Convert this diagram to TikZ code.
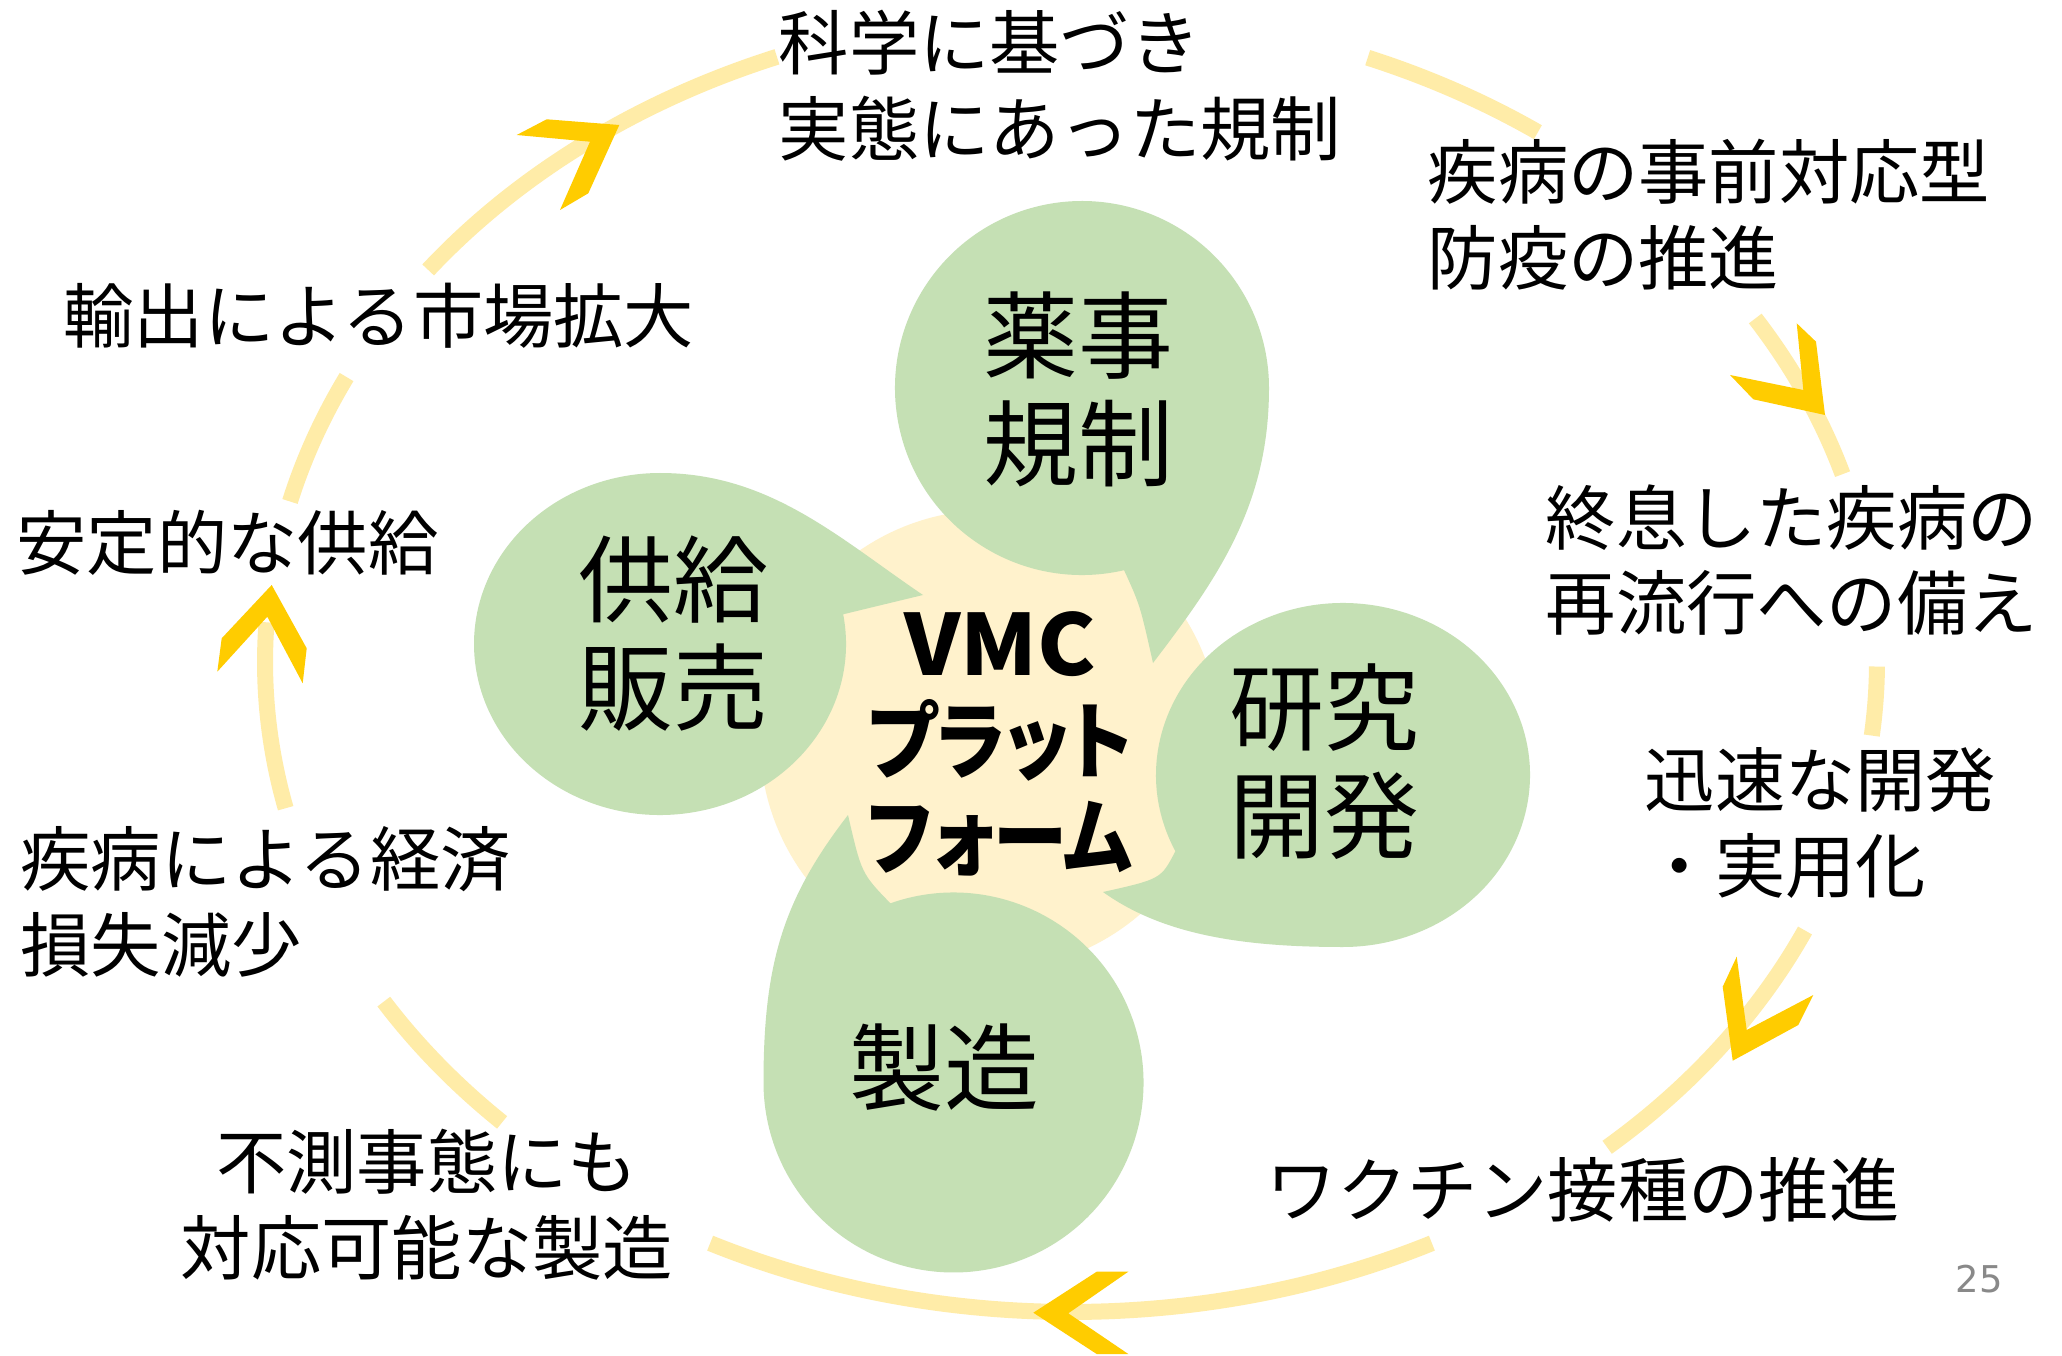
\documentclass[tikz,border=0pt]{standalone}
\usepackage{graphicx}
\usepackage{fontspec}
\newfontfamily\jp{Noto Sans CJK JP}
\newfontfamily\jpp[RawFeature=+palt]{Noto Sans CJK JP}
\newfontfamily\numfont{DejaVu Sans}
\usetikzlibrary{calc}
\definecolor{arcc}{RGB}{255,236,168}
\definecolor{chev}{RGB}{255,204,0}
\definecolor{petal}{RGB}{197,224,180}
\definecolor{core}{RGB}{255,242,204}
\definecolor{pnum}{RGB}{137,137,137}
\begin{document}
\begin{tikzpicture}[x=0.1mm,y=-0.1mm,
  ring/.style={draw=arcc, line width=1.6mm},
  chevron/.style={fill=chev, draw=none},
  petalshape/.style={fill=petal, draw=none},
  lbl/.style={inner sep=0, font=\jp\fontsize{20pt}{24.4pt}\selectfont, align=left, anchor=west},
  ptxt/.style={inner sep=0, font=\jp\fontsize{27pt}{30.7pt}\selectfont, align=center},
]
\fill[white] (0,0) rectangle (2062,1356);
\useasboundingbox (0,0) rectangle (2062,1356);

% ring
\coordinate (E) at (1071,662);
\foreach \a/\b in {-142.9/-111.4, -68.4/-54.6, -31.9/-16.8, 0.4/6.5, 24.4/48.3, 63.4/116.6, 134.9/148.5, 167/183.5, 194.3/206}
  \draw[ring] ($(E)+(\a:806 and 650)$) arc[start angle=\a, end angle=\b, x radius=806, y radius=650];

% chevrons
\fill[chevron] (516.7,135) -- (546.7,119.3) -- (619.3,125) -- (588.3,193.3) -- (560,210) -- (590,141.7) -- cycle;
\fill[chevron] (1796.7,323.3) -- (1816,341.7) -- (1825,415) -- (1753.3,399.3) -- (1730,375) -- (1803.3,390) -- cycle;
\fill[chevron] (1736.7,956.7) -- (1746.7,1030) -- (1813.3,995) -- (1798.3,1025) -- (1732.7,1060.7) -- (1722.7,986.7) -- cycle;
\fill[chevron] (1096.7,1271.7) -- (1128.3,1271.7) -- (1068.3,1313.3) -- (1128.3,1354) -- (1096.7,1354) -- (1033.3,1312.7) -- cycle;
\fill[chevron] (271.7,585) -- (306.7,648.3) -- (302.7,683.3) -- (267.3,616.7) -- (217.3,671.7) -- (221.7,638.3) -- cycle;

% core circle
\fill[core] (990,740) circle[radius=230];

% petals
\begin{scope}[shift={(1082,388)}]
\fill[petalshape] (77:187) arc[start angle=77, end angle=360, radius=187]
  .. controls (187,118) and (135,191) .. (71,275) .. controls (58,217) .. (77:187) -- cycle;
\end{scope}
\begin{scope}[shift={(1343,775)}]
\fill[petalshape] (153.7:187 and 172) arc[start angle=153.7, end angle=450, x radius=187, y radius=172]
  .. controls (-100,172) and (-180,160) .. (-240,117) .. controls (-182,104) .. (153.7:187 and 172) -- cycle;
\end{scope}
\begin{scope}[shift={(953.5,1082.5)}]
\fill[petalshape] (250.6:190) arc[start angle=250.6, end angle=540, radius=190]
  .. controls (-190,-120) and (-170,-184) .. (-105.5,-267.5) .. controls (-92,-209) .. (250.6:190) -- cycle;
\end{scope}
\begin{scope}[shift={(660,644)}]
\fill[petalshape] (350:186 and 171) arc[start angle=350, end angle=630, x radius=186, y radius=171]
  .. controls (110,-171) and (180,-105) .. (263,-49) .. controls (205,-35) .. (350:186 and 171) -- cycle;
\end{scope}

% center text
\node[inner sep=0, align=center, font=\jpp\bfseries\fontsize{24pt}{27.5pt}\selectfont] (vmc) at (1000,744)
  {\scalebox{1.04}[1]{VMC}\\\scalebox{0.89}[1]{プラット}\\\scalebox{0.88}[1]{フォーム}};

% petal texts
\node[ptxt] (p1) at (1078,389) {薬事\\規制};
\node[ptxt] (p2) at (1324,762) {研究\\開発};
\node[ptxt] (p3) at (944,1068) {製造};
\node[ptxt] (p4) at (673,634) {供給\\販売};

% labels
\node[lbl] (t1) at (778,86) {科学に基づき\\実態にあった規制};
\node[lbl] (t2) at (1427,215) {疾病の事前対応型\\防疫の推進};
\node[lbl] (t3) at (1545,560) {終息した疾病の\\再流行への備え};
\node[lbl] (t4) at (1644,823) {迅速な開発\\・実用化};
\node[lbl] (t5) at (1266,1190) {ワクチン接種の推進};
\node[lbl, anchor=center, align=center] (t6) at (427,1205) {不測事態にも\\対応可能な製造};
\node[lbl] (t7) at (20,902) {疾病による経済\\損失減少};
\node[lbl] (t8) at (16,543) {安定的な供給};
\node[lbl] (t9) at (63,316) {輸出による市場拡大};

\node[inner sep=0, text=pnum, font=\numfont\fontsize{10.5pt}{12pt}\selectfont] (pg) at (1979,1279) {25};
\end{tikzpicture}
\end{document}
